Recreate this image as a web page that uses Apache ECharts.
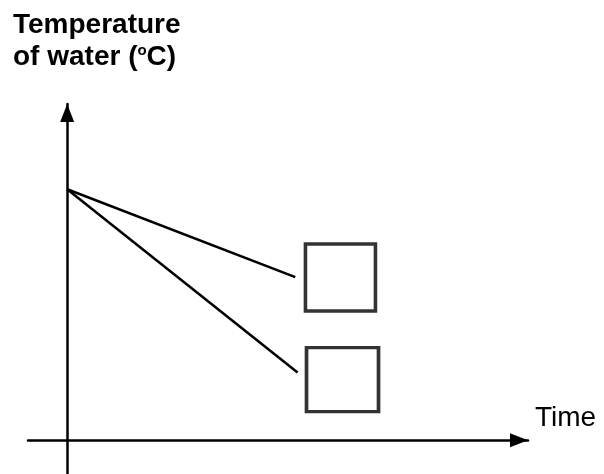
<!DOCTYPE html>
<html>
<head>
<meta charset="utf-8">
<script src="https://cdn.jsdelivr.net/npm/echarts@6/dist/echarts.min.js"></script>
<style>
  html, body { margin: 0; padding: 0; background: #fff; }
  #chart { width: 604px; height: 474px; }
</style>
</head>
<body>
<div id="chart"></div>
<script>
// Cooling of water: two lines from the same starting temperature
const timePoints = [0, 10];
const slowCooling = [100, 65];
const fastCooling = [100, 27];
const fastEndTime = 10;
const slowEndTime = 9.9;
// Empty answer boxes next to the line ends (time, temperature)
const boxTimes = [11.86, 11.95];
const boxTemps = [64.8, 24.1];

const chart = echarts.init(document.getElementById('chart'), null, { renderer: 'canvas' });

const axisLine = {
  onZero: true,
  symbol: ['none', 'triangle'],
  symbolSize: [14, 18],
  symbolOffset: [0, -9],
  lineStyle: { color: '#000', width: 2.5 }
};

chart.setOption({
  animation: false,
  backgroundColor: '#fff',
  title: {
    left: 8,
    top: 4,
    text: '{a|Temperature}\n{a|of water (}{s|o}{a|C)}',
    textStyle: {
      rich: {
        a: { fontFamily: 'Liberation Sans, Arial', fontSize: 28, fontWeight: 'bold', color: '#000', lineHeight: 32 },
        s: { fontFamily: 'Liberation Sans, Arial', fontSize: 15, fontWeight: 'bold', color: '#000', lineHeight: 32, padding: [0, 0, 12, 0] }
      }
    }
  },
  grid: { left: 28, right: 76, top: 104, bottom: 0 },
  xAxis: {
    type: 'value',
    min: -1.7,
    max: 20,
    name: 'Time',
    nameLocation: 'end',
    nameGap: 7,
    nameTextStyle: {
      fontFamily: 'Liberation Sans, Arial',
      fontSize: 28,
      color: '#000',
      verticalAlign: 'bottom',
      align: 'left',
      padding: [0, 0, 8, 0]
    },
    axisLine: axisLine,
    axisTick: { show: false },
    axisLabel: { show: false },
    splitLine: { show: false }
  },
  yAxis: {
    type: 'value',
    min: -13.5,
    max: 134,
    axisLine: axisLine,
    axisTick: { show: false },
    axisLabel: { show: false },
    splitLine: { show: false }
  },
  series: [
    {
      type: 'line',
      data: [[timePoints[0], slowCooling[0]], [slowEndTime, slowCooling[1]]],
      symbol: 'none',
      lineStyle: { color: '#000', width: 2.5 }
    },
    {
      type: 'line',
      data: [[timePoints[0], fastCooling[0]], [fastEndTime, fastCooling[1]]],
      symbol: 'none',
      lineStyle: { color: '#000', width: 2.5 }
    },
    {
      type: 'scatter',
      symbol: 'rect',
      data: [
        { value: [boxTimes[0], boxTemps[0]], symbolSize: [70, 67] },
        { value: [boxTimes[1], boxTemps[1]], symbolSize: [72, 64] }
      ],
      itemStyle: { color: 'rgba(0,0,0,0)', borderColor: '#000', borderWidth: 3.5 }
    }
  ]
});
</script>
</body>
</html>
